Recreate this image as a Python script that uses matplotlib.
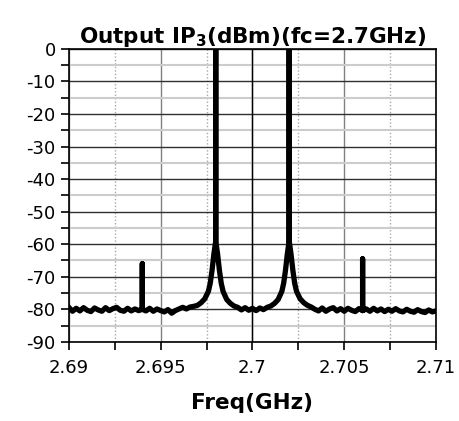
import matplotlib.pyplot as plt
from matplotlib.ticker import MultipleLocator

plt.rcParams["axes.unicode_minus"] = False

# values (GHz, dBm)
freq = [
    2.6900, 2.6902, 2.6904, 2.6906, 2.6908, 2.6910, 2.6912, 2.6914, 2.6916, 2.6918,
    2.6920, 2.6922, 2.6924, 2.6926, 2.6928, 2.6930, 2.6932, 2.6934, 2.6936, 2.6938,
    2.6940, 2.6940, 2.6940, 2.6942, 2.6944, 2.6946, 2.6948, 2.6950, 2.6952, 2.6954,
    2.6956, 2.6958, 2.6960, 2.6962, 2.6964, 2.6966, 2.6968,
    # first tone
    2.6970, 2.6972, 2.6974, 2.6976, 2.6977, 2.6978, 2.6979, 2.6980, 2.6980, 2.6980,
    2.6981, 2.6982, 2.6983, 2.6984, 2.6986, 2.6988, 2.6990,
    2.6992, 2.6994, 2.6996, 2.6998, 2.7000, 2.7002, 2.7004, 2.7006, 2.7008,
    # second tone
    2.7010, 2.7012, 2.7014, 2.7016, 2.7017, 2.7018, 2.7019, 2.7020, 2.7020, 2.7020,
    2.7021, 2.7022, 2.7023, 2.7024, 2.7026, 2.7028, 2.7030,
    2.7032, 2.7034, 2.7036, 2.7038, 2.7040, 2.7042, 2.7044, 2.7046, 2.7048, 2.7050,
    2.7052, 2.7054, 2.7056, 2.7058, 2.7060, 2.7060, 2.7060, 2.7062, 2.7064, 2.7066,
    2.7068, 2.7070, 2.7072, 2.7074, 2.7076, 2.7078, 2.7080, 2.7082, 2.7084, 2.7086,
    2.7088, 2.7090, 2.7092, 2.7094, 2.7096, 2.7098, 2.7100,
]
level = [
    -79.4, -80.6, -79.7, -80.5, -79.5, -80.3, -80.7, -79.6, -80.2, -80.6,
    -79.5, -80.4, -79.8, -79.4, -80.3, -80.6, -79.7, -80.5, -79.9, -80.4,
    -80.0, -66.0, -80.0, -80.5, -79.7, -80.6, -79.9, -80.4, -80.8, -80.1,
    -81.2, -80.4, -79.9, -79.4, -79.9, -79.3, -79.1,
    -78.8, -78.0, -76.8, -74.5, -72.0, -68.0, -63.0, -59.0, 0.0, -59.0,
    -63.0, -68.0, -72.0, -74.5, -77.0, -78.2, -79.0,
    -79.4, -80.2, -79.5, -80.3, -79.7, -80.4, -79.6, -80.1, -79.4,
    -79.0, -78.2, -77.0, -74.5, -72.0, -68.0, -63.0, -59.0, 0.0, -59.0,
    -63.0, -68.0, -72.0, -74.5, -76.8, -78.0, -78.8,
    -79.3, -80.0, -80.5, -79.6, -80.6, -79.9, -79.5, -80.5, -79.8, -80.6,
    -79.7, -80.3, -80.7, -79.8, -80.4, -64.5, -80.4, -79.9, -80.6, -79.7,
    -80.5, -79.9, -80.7, -80.0, -80.6, -79.8, -80.5, -80.8, -80.0, -80.6,
    -80.9, -80.1, -80.7, -81.0, -80.2, -80.8, -80.5,
]

fig = plt.figure(figsize=(4.59, 4.21), dpi=100)
ax = fig.add_axes([0.150, 0.188, 0.800, 0.696])

ax.set_xlim(2.69, 2.71)
ax.set_ylim(-90, 0)
ax.xaxis.set_major_locator(MultipleLocator(0.005))
ax.xaxis.set_minor_locator(MultipleLocator(0.0025))
ax.yaxis.set_major_locator(MultipleLocator(10))
ax.yaxis.set_minor_locator(MultipleLocator(5))
ax.set_xticks([2.69, 2.695, 2.7, 2.705, 2.71])
ax.set_xticklabels(["2.69", "2.695", "2.7", "2.705", "2.71"])

# grid
ax.grid(True, which="major", axis="y", color="#303030", lw=1.0)
ax.grid(True, which="minor", axis="y", color="#cccccc", lw=1.5)
ax.grid(True, which="major", axis="x", color="#808080", lw=1.0)
ax.grid(True, which="minor", axis="x", color="#a8a8a8", lw=1.0, ls=(0, (1, 1.5)))
ax.axvline(2.7, color="black", lw=1.0, zorder=1.5)
ax.set_axisbelow(True)

ax.plot(freq, level, color="black", lw=3.8, solid_joinstyle="round", zorder=3)

for s in ax.spines.values():
    s.set_linewidth(1.2)
ax.tick_params(which="both", direction="out", length=6, width=1.2, labelsize=13)
ax.tick_params(axis="x", pad=6)

ax.set_title("Output IP$_\\mathbf{3}$(dBm)(fc=2.7GHz)", fontsize=15.5, fontweight="bold", pad=4)
ax.set_xlabel("Freq(GHz)", fontsize=15.5, fontweight="bold", labelpad=12)

plt.savefig("out.png", dpi=100)
